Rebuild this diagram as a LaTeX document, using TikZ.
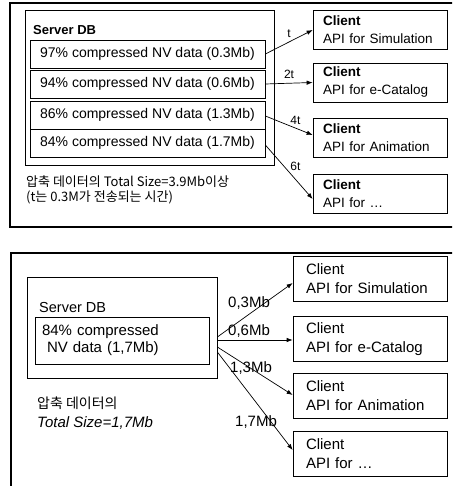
\documentclass[tikz,border=0pt]{standalone}
\usepackage{fontspec}
\setmainfont{Liberation Sans}
\newfontfamily\krfont{Noto Sans CJK KR}
\usetikzlibrary{arrows.meta}

\tikzset{
  panel/.style={draw, line width=1.2pt},
  box/.style={draw, line width=0.7pt, rectangle, inner sep=0pt},
  rowbox/.style={box, minimum width=235pt, minimum height=28pt,
    font=\fontsize{14}{16}\selectfont},
  clientA/.style={box, minimum width=134pt, minimum height=39pt,
    text width=114pt, align=left, font=\fontsize{13.5}{18}\selectfont},
  clientB/.style={box, minimum width=154pt, minimum height=45pt,
    text width=128pt, align=left, font=\fontsize{15}{19}\selectfont},
  arr/.style={-{Latex[length=6pt,width=4.5pt]}, line width=0.7pt},
  tlbl/.style={font=\fontsize{12}{14}\selectfont, inner sep=1pt},
  mblbl/.style={font=\fontsize{15}{17}\selectfont, inner sep=0pt},
}

\begin{document}
\begin{tikzpicture}[x=1pt, y=-1pt]
\useasboundingbox (0,0) rectangle (452,486);
\clip (0,0) rectangle (452,486);
\fill[white] (0,0) rectangle (452,486);

% ---------- upper panel: four compression levels ----------
\draw[panel] (10,3) rectangle (470,227);
\node[box, minimum width=249pt, minimum height=155pt] (sdbA) at (149.5,87.5) {};
\node[anchor=west, inner sep=0pt, font=\bfseries\fontsize{13}{15}\selectfont] (sdbAlbl) at (33,30) {Server DB};

\node[rowbox] (r1) at (147.5,54) {97\% compressed NV data (0.3Mb)};
\node[rowbox] (r2) at (147.5,84) {94\% compressed NV data (0.6Mb)};
\node[rowbox] (r3) at (147.5,115) {86\% compressed NV data (1.3Mb)};
\node[rowbox] (r4) at (147.5,143) {84\% compressed NV data (1.7Mb)};

\node[clientA] (c1) at (380,30) {\textbf{Client}\\API for Simulation};
\node[clientA] (c2) at (380,82.5) {\textbf{Client}\\API for e-Catalog};
\node[clientA] (c3) at (380,137.5) {\textbf{Client}\\API for Animation};
\node[clientA] (c4) at (380,193.5) {\textbf{Client}\\API for \ldots};

\draw[arr] (r1.east) -- node[tlbl, pos=0.5, above=3pt] {t} (c1.west);
\draw[arr] (r2.east) -- node[tlbl, pos=0.5, above=3pt] {2t} (c2.west);
\draw[arr] ([yshift=-1pt]r3.east) -- node[tlbl, pos=0.5, above right] {4t} ([yshift=2.5pt]c3.west);
\draw[arr] ([yshift=-2pt]r4.east) -- node[tlbl, pos=0.5, above right] {6t} ([yshift=-5.5pt]c4.west);

\node[anchor=west, inner sep=0pt, align=left, font=\krfont\fontsize{13}{15}\selectfont] (noteA) at (26,190)
  {압축 데이터의 Total Size=3.9Mb이상\\ (t는 0.3M가 전송되는 시간)};

% ---------- lower panel: one compression level ----------
\draw[panel] (11,253) rectangle (470,500);
\node[box, minimum width=190pt, minimum height=101pt] (sdbB) at (122,327.5) {};
\node[anchor=west, inner sep=0pt, font=\fontsize{14.5}{17}\selectfont] (sdbBlbl) at (39,308) {Server DB};
\node[box, minimum width=174pt, minimum height=47pt, text width=160pt, align=left,
      font=\fontsize{15}{17}\selectfont] (dB) at (122,340.5)
  {84\% compressed\\ \hspace*{5pt}NV data (1,7Mb)};

\node[clientB] (d1) at (370,279) {Client\\API for Simulation};
\node[clientB] (d2) at (370,339) {Client\\API for e-Catalog};
\node[clientB] (d3) at (370,396) {Client\\API for Animation};
\node[clientB] (d4) at (370,453.5) {Client\\API for \ldots};

\draw[arr] ([yshift=-9.5pt]sdbB.east) -- ([yshift=-4pt]d1.west);
\draw[arr] ([yshift=-12.5pt]sdbB.east) -- ([yshift=-1pt]d2.west);
\draw[arr] ([yshift=-19.5pt]sdbB.east) -- ([yshift=1pt]d3.west);
\draw[arr] ([yshift=-24.5pt]sdbB.east) -- ([yshift=3.5pt]d4.west);

\node[mblbl] (m1) at (249,303) {0,3Mb};
\node[mblbl] (m2) at (249,331) {0,6Mb};
\node[mblbl] (m3) at (251,368) {1,3Mb};
\node[mblbl] (m4) at (256,422) {1,7Mb};

\node[anchor=west, inner sep=0pt, font=\krfont\fontsize{14}{16}\selectfont] (noteB1) at (37,403) {압축 데이터의};
\node[anchor=west, inner sep=0pt, font=\itshape\fontsize{15}{17}\selectfont] (noteB2) at (37,423) {Total Size=1,7Mb};
\end{tikzpicture}
\end{document}
